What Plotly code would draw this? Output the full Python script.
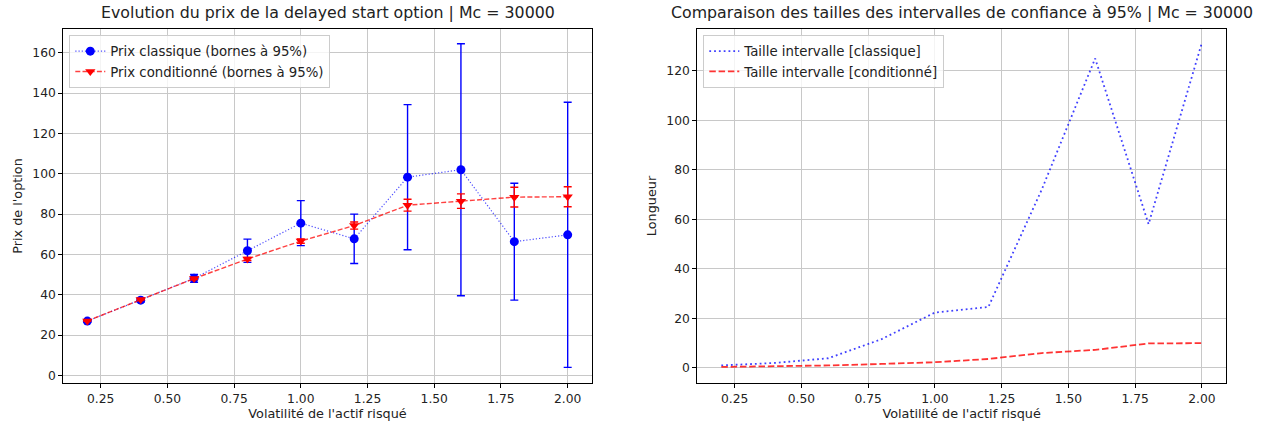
import plotly.graph_objects as go

# ---- data ----
volatilite = [0.2, 0.4, 0.6, 0.8, 1.0, 1.2, 1.4, 1.6, 1.8, 2.0]
prix_classique = [26.9, 37.3, 48.1, 61.8, 75.5, 67.7, 98.3, 102.0, 66.3, 69.7]
prix_conditionne = [27.0, 37.6, 48.0, 57.7, 66.6, 74.3, 84.4, 86.4, 88.4, 88.6]
taille_classique = [0.9, 1.9, 3.8, 11.5, 22.3, 24.5, 72.0, 125.0, 58.0, 131.5]
taille_conditionne = [0.3, 0.5, 0.9, 1.5, 2.2, 3.5, 5.9, 7.2, 9.8, 9.9]

x_ticks = [0.25, 0.50, 0.75, 1.00, 1.25, 1.50, 1.75, 2.00]
x_ticklabels = ["0.25", "0.50", "0.75", "1.00", "1.25", "1.50", "1.75", "2.00"]
y1_ticks = [0, 20, 40, 60, 80, 100, 120, 140, 160]
y2_ticks = [0, 20, 40, 60, 80, 100, 120]

title_left = "Evolution du prix de la delayed start option | Mc = 30000"
title_right = "Comparaison des tailles des intervalles de confiance à 95% | Mc = 30000"
xlabel = "Volatilité de l'actif risqué"
ylabel_left = "Prix de l'option"
ylabel_right = "Longueur"

half_classique = [t / 2 for t in taille_classique]
half_conditionne = [t / 2 for t in taille_conditionne]

FONT = "DejaVu Sans"
W, H = 1269, 425
MT, MB = 29, 42
TICK_FS = 12.3
LABEL_FS = 12.8
LEGEND_FS = 13.3
TITLE_FS = 15.8

fig = go.Figure()

fig.add_trace(go.Scatter(
    x=volatilite, y=prix_classique, mode="lines+markers",
    name="Prix classique (bornes à 95%)",
    line=dict(color="rgba(0,0,255,0.7)", width=1.2, dash="1.2px,2px"),
    marker=dict(color="#0000ff", size=9, symbol="circle"),
    error_y=dict(type="data", array=half_classique, visible=True,
                 color="#0000ff", thickness=1.4, width=4),
    xaxis="x", yaxis="y", legend="legend",
))
fig.add_trace(go.Scatter(
    x=volatilite, y=prix_conditionne, mode="lines+markers",
    name="Prix conditionné (bornes à 95%)",
    line=dict(color="rgba(255,0,0,0.75)", width=1.4, dash="5px,2.2px"),
    marker=dict(color="#ff0000", size=9, symbol="triangle-down"),
    error_y=dict(type="data", array=half_conditionne, visible=True,
                 color="#ff0000", thickness=1.4, width=4),
    xaxis="x", yaxis="y", legend="legend",
))

fig.add_trace(go.Scatter(
    x=volatilite, y=taille_classique, mode="lines",
    name="Taille intervalle [classique]",
    line=dict(color="rgba(0,0,255,0.75)", width=1.8, dash="1.8px,3px"),
    xaxis="x2", yaxis="y2", legend="legend2",
))
fig.add_trace(go.Scatter(
    x=volatilite, y=taille_conditionne, mode="lines",
    name="Taille intervalle [conditionné]",
    line=dict(color="rgba(255,0,0,0.8)", width=1.8, dash="6.5px,2.8px"),
    xaxis="x2", yaxis="y2", legend="legend2",
))

axis_common = dict(
    showline=True, linecolor="#000", linewidth=1, mirror=True,
    ticks="outside", ticklen=4, tickcolor="#000", tickwidth=1,
    showgrid=True, gridcolor="#c8c8c8", gridwidth=1, zeroline=False,
    tickfont=dict(family=FONT, size=TICK_FS, color="#222"),
)

legend_common = dict(
    xanchor="left", yanchor="top",
    bgcolor="rgba(255,255,255,0.8)", bordercolor="#cccccc", borderwidth=1,
    font=dict(family=FONT, size=LEGEND_FS, color="#222"),
    itemwidth=30, tracegroupgap=0,
)

fig.update_layout(
    width=W, height=H,
    margin=dict(l=0, r=0, t=MT, b=MB),
    paper_bgcolor="white", plot_bgcolor="white",
    font=dict(family=FONT, size=LABEL_FS, color="#222"),
    xaxis=dict(domain=[63.3 / W, 591.7 / W], range=[0.11, 2.09],
               tickvals=x_ticks, ticktext=x_ticklabels,
               title=dict(text=xlabel, standoff=4, font=dict(size=LABEL_FS)),
               anchor="y", **axis_common),
    yaxis=dict(domain=[0, 1], range=[-3.8, 171.8], tickvals=y1_ticks,
               title=dict(text=ylabel_left, standoff=6, font=dict(size=LABEL_FS)),
               anchor="x", **axis_common),
    xaxis2=dict(domain=[697.3 / W, 1226 / W], range=[0.11, 2.09],
                tickvals=x_ticks, ticktext=x_ticklabels,
                title=dict(text=xlabel, standoff=4, font=dict(size=LABEL_FS)),
                anchor="y2", **axis_common),
    yaxis2=dict(domain=[0, 1], range=[-6.2, 136.9], tickvals=y2_ticks,
                title=dict(text=ylabel_right, standoff=6, font=dict(size=LABEL_FS)),
                anchor="x2", **axis_common),
    legend=dict(x=69.3 / W, y=1 - 6 / (H - MT - MB), **legend_common),
    legend2=dict(x=703.3 / W, y=1 - 6 / (H - MT - MB), **legend_common),
    showlegend=True,
)

for text, x0, x1 in [(title_left, 63.3, 591.7), (title_right, 697.3, 1226)]:
    fig.add_annotation(
        text=text, xref="paper", yref="paper",
        x=((x0 + x1) / 2) / W, y=1, xanchor="center", yanchor="bottom",
        yshift=5, showarrow=False,
        font=dict(family=FONT, size=TITLE_FS, color="#222"),
    )

fig.write_html(
    "out.html",
    config={"displayModeBar": False},
    post_script="document.body.style.margin='0';document.body.style.padding='0';",
)
